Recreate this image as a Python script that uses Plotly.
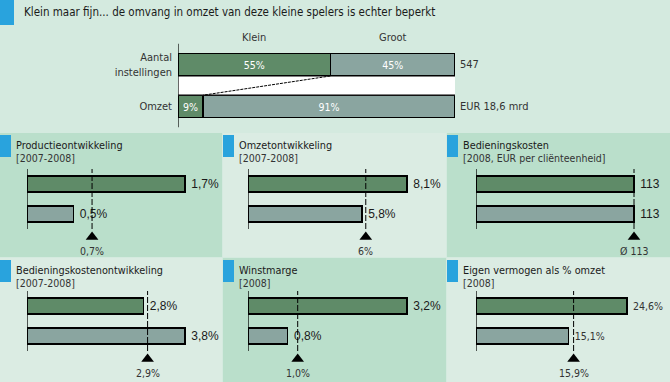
import plotly.graph_objects as go

# ---------------- data ----------------
top_rows = ["Aantal<br>instellingen", "Omzet"]
segment_names = ["Klein", "Groot"]
klein_share = [55, 9]
groot_share = [45, 91]
top_totals = ["547", "EUR 18,6 mrd"]

panel_titles = ["Productieontwikkeling", "Omzetontwikkeling", "Bedieningskosten",
                "Bedieningskostenontwikkeling", "Winstmarge", "Eigen vermogen als % omzet"]
panel_subtitles = ["[2007-2008]", "[2007-2008]", "[2008, EUR per cliënteenheid]",
                   "[2007-2008]", "[2008]", "[2008]"]
klein_values = [1.7, 8.1, 113, 2.8, 3.2, 24.6]
groot_values = [0.5, 5.8, 113, 3.8, 0.8, 15.1]
average_values = [0.7, 6.0, 113, 2.9, 1.0, 15.9]
value_suffix = ["%", "%", "", "%", "%", "%"]
average_labels = ["0,7%", "6%", "Ø 113", "2,9%", "1,0%", "15,9%"]

# ---------------- style ----------------
W, H = 670, 382
BG = "#d4eadf"
DARK_PANEL = "#badfcb"
LIGHT_PANEL = "#dbece3"
BLUE = "#29a3dd"
GREEN = "#5f8b68"
GREY = "#8aa5a0"
COND = "DejaVu Sans Condensed, Liberation Sans Narrow, sans-serif"
REG = "Liberation Sans, Arial, sans-serif"
TXT = "#1a1a1a"


def fx(p):
    return p / W


def fy(p):
    return 1 - p / H


def fmt(v, suf):
    if suf == "%":
        return f"{v:.1f}".replace(".", ",") + "%"
    return f"{v:g}"


fig = go.Figure()
shapes = []
annotations = []
layout_axes = {}

# backgrounds
col_left = [0, 223, 447]
col_right = [222, 446, 670]
row_top = [133, 258]
row_bottom = [257, 382]
for i in range(6):
    r, c = divmod(i, 3)
    color = DARK_PANEL if (r + c) % 2 == 0 else LIGHT_PANEL
    shapes.append(dict(type="rect", xref="paper", yref="paper", layer="below",
                       x0=fx(col_left[c]), x1=fx(col_right[c]),
                       y0=fy(row_bottom[r]), y1=fy(row_top[r]),
                       fillcolor=color, line_width=0))
    shapes.append(dict(type="rect", xref="paper", yref="paper", layer="below",
                       x0=fx(col_left[c]), x1=fx(col_left[c] + 11),
                       y0=fy(row_top[r] + 24), y1=fy(row_top[r] + 2),
                       fillcolor=BLUE, line_width=0))
shapes.append(dict(type="rect", xref="paper", yref="paper", layer="below",
                   x0=0, x1=fx(14), y0=fy(25), y1=1, fillcolor=BLUE, line_width=0))
annotations.append(dict(xref="paper", yref="paper", x=fx(22), y=fy(12),
                        xanchor="left", yanchor="middle", showarrow=False,
                        text="Klein maar fijn... de omvang in omzet van deze kleine spelers is echter beperkt",
                        font=dict(family=COND, size=11.5, color=TXT)))

# ---------------- top chart ----------------
bw_top = 0.54
ypos = [1, 0]
for vals, col, name in [(klein_share, GREEN, segment_names[0]),
                        (groot_share, GREY, segment_names[1])]:
    fig.add_trace(go.Bar(x=vals, y=ypos, orientation="h", width=bw_top,
                         marker=dict(color=col, line=dict(color="black", width=1.2)),
                         text=[f"{v}%" for v in vals], textposition="inside",
                         insidetextanchor="middle", constraintext="none",
                         textfont=dict(family=COND, size=10.5, color="white"),
                         name=name, xaxis="x", yaxis="y", hoverinfo="skip"))
total = klein_share[0] + groot_share[0]
top_unit = 41.8           # px per row unit
top_center = 64.7         # px of upper bar center
y_hi, y_lo = 1.85, -0.5
layout_axes["xaxis"] = dict(domain=[fx(178), fx(455)], range=[0, total], visible=False,
                            fixedrange=True)
layout_axes["yaxis"] = dict(domain=[fy(top_center + (1 - y_lo) * top_unit),
                                    fy(top_center - (y_hi - 1) * top_unit)],
                            range=[y_lo, y_hi], anchor="x",
                            tickvals=ypos, ticktext=top_rows, showline=False,
                            showgrid=False, zeroline=False, ticks="", ticklabelstandoff=5,
                            tickfont=dict(family=COND, size=11, color="#333"),
                            fixedrange=True)
shapes.append(dict(type="line", xref="x", yref="y", x0=0, x1=0, y0=-0.5, y1=1.5,
                   line=dict(color="black", width=1.2), layer="above"))
shapes.append(dict(type="rect", xref="x", yref="y", x0=0, x1=total * 1.005,
                   y0=ypos[1] + bw_top / 2, y1=ypos[0] - bw_top / 2,
                   fillcolor="white", line=dict(color="black", width=1.2), layer="above"))
shapes.append(dict(type="line", xref="x", yref="y",
                   x0=klein_share[0], y0=ypos[0] - bw_top / 2,
                   x1=klein_share[1], y1=ypos[1] + bw_top / 2,
                   line=dict(color="black", width=1, dash="3px,1px"), layer="above"))
annotations.append(dict(xref="x", yref="y", x=klein_share[0] / 2, y=1.66,
                        text=segment_names[0], showarrow=False,
                        font=dict(family=COND, size=11, color="#333")))
annotations.append(dict(xref="x", yref="y", x=klein_share[0] + groot_share[0] / 2, y=1.66,
                        text=segment_names[1], showarrow=False,
                        font=dict(family=COND, size=11, color="#333")))
for yv, t in zip(ypos, top_totals):
    annotations.append(dict(xref="x", yref="y", x=total, y=yv, xanchor="left", xshift=3,
                            text=t, showarrow=False,
                            font=dict(family=COND, size=11, color="#333")))

# ---------------- panels ----------------
axis_x = [27, 248, 476]
bar_px = [158, 159, 158, 158, 159, 151]
dom_w = 180
row_ytop = [169, 291]     # px of top of axis line
unit = 30                 # px per row unit
p_hi, p_lo = 1.5, -1.5
bw = 0.54
for i in range(6):
    r, c = divmod(i, 3)
    n = i + 2
    xa, ya = f"x{n}", f"y{n}"
    vmax = max(klein_values[i], groot_values[i])
    small = (i == 5)
    fig.add_trace(go.Bar(
        x=[klein_values[i], groot_values[i]], y=ypos, orientation="h", width=bw,
        marker=dict(color=[GREEN, GREY], line=dict(color="black", width=1.3)),
        text=[fmt(klein_values[i], value_suffix[i]), fmt(groot_values[i], value_suffix[i])],
        texttemplate="\u00a0%{text}",
        textposition="outside", constraintext="none", cliponaxis=False,
        textfont=dict(family=COND if small else REG, size=10.5 if small else 12,
                      color="#333" if small else TXT),
        xaxis=xa, yaxis=ya, hoverinfo="skip", showlegend=False))
    fig.add_trace(go.Scatter(
        x=[average_values[i]], y=[-0.77], mode="markers", cliponaxis=False,
        marker=dict(symbol="triangle-up", size=11, color="black"),
        xaxis=xa, yaxis=ya, hoverinfo="skip", showlegend=False))
    layout_axes[f"xaxis{n}"] = dict(domain=[fx(axis_x[c]), fx(axis_x[c] + dom_w)],
                                    range=[0, vmax * dom_w / bar_px[i]], visible=False,
                                    anchor=ya, fixedrange=True)
    ytop = row_ytop[r]
    layout_axes[f"yaxis{n}"] = dict(domain=[fy(ytop + (p_hi - p_lo) * unit), fy(ytop)],
                                    range=[p_lo, p_hi], anchor=xa, visible=False,
                                    fixedrange=True)
    shapes.append(dict(type="line", xref=xa, yref=ya, x0=0, x1=0, y0=-0.5, y1=1.5,
                       line=dict(color="black", width=1.3), layer="above"))
    shapes.append(dict(type="line", xref=xa, yref=ya,
                       x0=average_values[i], x1=average_values[i], y0=-0.5, y1=1.5,
                       line=dict(color="black", width=1, dash="6px,2px"), layer="above"))
    annotations.append(dict(xref=xa, yref=ya, x=average_values[i], y=-1.23,
                            text=average_labels[i], showarrow=False,
                            font=dict(family=COND, size=10.5, color="#333")))
    annotations.append(dict(xref="paper", yref="paper", x=fx(col_left[c] + 14),
                            y=fy(row_top[r] + 12), xanchor="left", yanchor="middle",
                            text=panel_titles[i], showarrow=False,
                            font=dict(family=COND, size=10.8, color=TXT)))
    annotations.append(dict(xref="paper", yref="paper", x=fx(col_left[c] + 14),
                            y=fy(row_top[r] + 25), xanchor="left", yanchor="middle",
                            text=panel_subtitles[i], showarrow=False,
                            font=dict(family=COND, size=10.5, color="#333")))

fig.update_layout(width=W, height=H, margin=dict(l=0, r=0, t=0, b=0),
                  paper_bgcolor=BG, plot_bgcolor="rgba(0,0,0,0)",
                  barmode="stack", showlegend=False, shapes=shapes,
                  annotations=annotations, **layout_axes)
fig.write_html("out.html", config={"displayModeBar": False},
               post_script="document.body.style.margin='0px';document.body.style.overflow='hidden';")
